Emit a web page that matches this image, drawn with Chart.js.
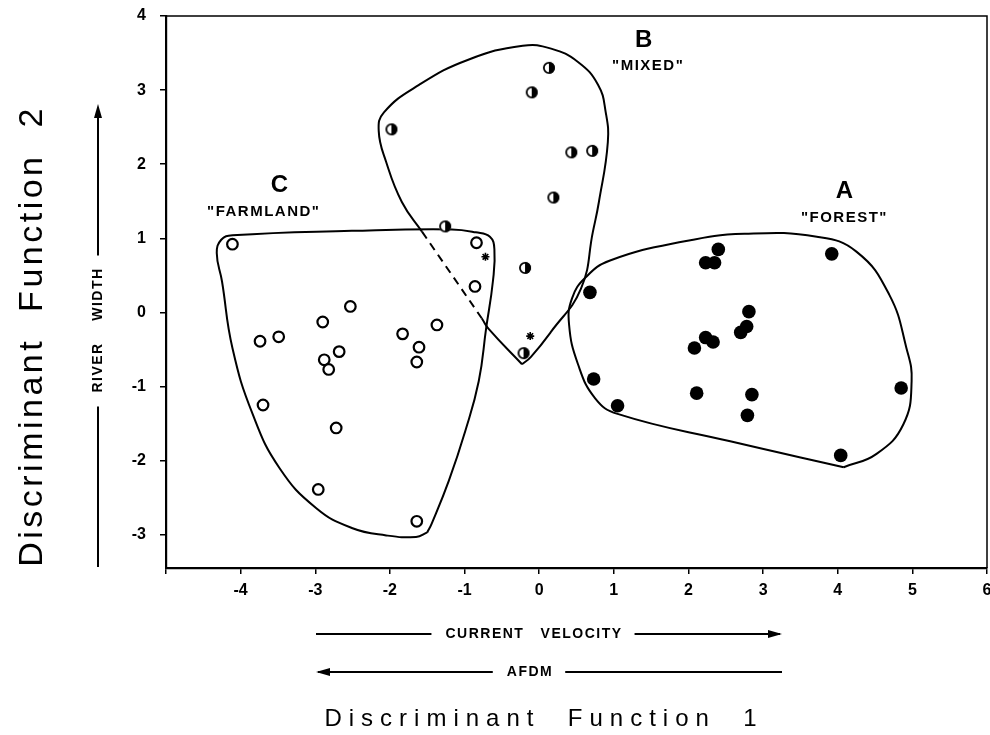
<!DOCTYPE html>
<html>
<head>
<meta charset="utf-8">
<script src="https://cdn.jsdelivr.net/npm/chart.js@4.4.1/dist/chart.umd.min.js"></script>
<style>
html,body{margin:0;padding:0;background:#fff;}
canvas{display:block;}
</style>
</head>
<body>
<canvas id="c" width="990" height="735"></canvas>
<script>
// ---------- DATA ----------
// Group A "FOREST" (filled circles)
const forestX = [2.40, 2.23, 2.35, 3.92, 0.68, 2.81, 2.70, 2.78, 2.23, 2.33, 2.08, 0.73, 1.05, 2.11, 2.85, 2.79, 4.85, 4.04];
const forestY = [0.85, 0.67, 0.67, 0.79, 0.27, 0.01, -0.27, -0.19, -0.34, -0.40, -0.48, -0.90, -1.26, -1.09, -1.11, -1.39, -1.02, -1.93];
// Group B "MIXED" (half-filled circles)
const mixedX = [-1.98, 0.13, -0.10, 0.43, 0.71, 0.19, -1.26, -0.19, -0.21];
const mixedY = [2.47, 3.30, 2.97, 2.16, 2.18, 1.55, 1.16, 0.60, -0.55];
// Group C "FARMLAND" (open circles)
const farmX = [-4.11, -0.84, -0.86, -2.53, -2.90, -3.74, -3.49, -2.88, -2.82, -2.68, -1.83, -1.61, -1.64, -1.37, -3.70, -2.72, -2.96, -1.64];
const farmY = [0.92, 0.94, 0.35, 0.08, -0.13, -0.39, -0.33, -0.64, -0.77, -0.53, -0.29, -0.47, -0.67, -0.17, -1.25, -1.56, -2.39, -2.82];
// Asterisk marks
const starX = [-0.72, -0.12];
const starY = [0.75, -0.32];

// Group boundaries (closed outlines, data coordinates)
const boundAX = [4.08, 2.56, 1.05, 0.75, 0.52, 0.40, 0.44, 0.62, 0.95, 1.95, 2.75, 3.72, 4.25, 4.69, 4.92, 4.99, 4.88, 4.52, 4.08];
const boundAY = [-2.09, -1.74, -1.37, -1.16, -0.70, -0.16, 0.19, 0.47, 0.70, 0.96, 1.06, 1.02, 0.82, 0.24, -0.48, -0.93, -1.51, -1.91, -2.09];
const boundBX = [-0.23, -0.11, 0.16, 0.56, 0.72, 0.80, 0.92, 0.89, 0.79, 0.52, 0.16, -0.22, -0.95, -1.61, -2.08, -2.15, -2.05, -1.84, -1.57, -0.77, -0.68, -0.23];
const boundBY = [-0.70, -0.60, -0.26, 0.32, 1.09, 1.49, 2.30, 2.71, 3.07, 3.38, 3.56, 3.60, 3.41, 3.07, 2.70, 2.45, 2.03, 1.49, 1.09, -0.08, -0.22, -0.70];
const boundBDashedFrom = 18; // segment index drawn dashed (inside region C)
const boundCX = [-1.50, -1.44, -1.21, -0.99, -0.81, -0.71, -0.62, -0.60, -0.66, -0.85, -1.17, -2.51, -4.11, -4.26, -4.32, -4.25, -4.11, -3.84, -3.48, -2.99, -2.51, -2.05, -1.65, -1.50];
const boundCY = [-2.97, -2.85, -2.27, -1.60, -0.93, -0.21, 0.42, 0.85, 1.02, 1.08, 1.12, 1.10, 1.04, 0.98, 0.80, 0.42, -0.48, -1.37, -2.10, -2.64, -2.91, -3.01, -3.03, -2.97];

// Tick labels / texts
const xTickValues = [-4, -3, -2, -1, 0, 1, 2, 3, 4, 5, 6];
const yTickValues = [-3, -2, -1, 0, 1, 2, 3, 4];
const groupLetters = ['A', 'B', 'C'];
const groupNames = ['"FOREST"', '"MIXED"', '"FARMLAND"'];
const xTitle = 'Discriminant  Function  1';
const yTitle = 'Discriminant  Function  2';
const xVarPos = 'CURRENT   VELOCITY';
const xVarNeg = 'AFDM';
const yVar = 'RIVER    WIDTH';

// ---------- build ----------
const pts = (xs, ys) => xs.map((x, i) => ({x: x, y: ys[i]}));
const FONT = "'Liberation Sans', Arial, Helvetica, sans-serif";

function halfCircle(r) {
  const s = Math.ceil(2 * r + 4);
  const c = document.createElement('canvas');
  c.width = s; c.height = s;
  const g = c.getContext('2d');
  const m = s / 2;
  g.beginPath(); g.arc(m, m, r, 0, 2 * Math.PI); g.fillStyle = '#fff'; g.fill();
  g.beginPath(); g.moveTo(m, m); g.arc(m, m, r, -Math.PI / 2, Math.PI / 2); g.closePath(); g.fillStyle = '#000'; g.fill();
  g.beginPath(); g.arc(m, m, r - 0.9, 0, 2 * Math.PI); g.lineWidth = 1.8; g.strokeStyle = '#000'; g.stroke();
  return c;
}
const halfImg = halfCircle(6);

// label anchor positions in data units (layout, not data)
const groupLabelPos = [
  {xLetter: 4.09, xName: 4.09, yLetter: 1.63, yName: 1.27},
  {xLetter: 1.40, xName: 1.46, yLetter: 3.67, yName: 3.33},
  {xLetter: -3.48, xName: -3.69, yLetter: 1.72, yName: 1.35}
];

function setLS(ctx, v) { if ('letterSpacing' in ctx) ctx.letterSpacing = v; }

const decor = {
  id: 'decor',
  beforeDatasetsDraw(chart) {
    const {ctx, chartArea: a} = chart;
    ctx.save();
    ctx.strokeStyle = '#000';
    ctx.lineWidth = 1.5;
    ctx.beginPath();
    ctx.moveTo(a.left, a.top); ctx.lineTo(a.right, a.top); ctx.lineTo(a.right, a.bottom);
    ctx.stroke();
    ctx.restore();
  },
  afterDraw(chart) {
    const {ctx} = chart;
    const xs = chart.scales.x, ys = chart.scales.y;
    ctx.save();
    ctx.fillStyle = '#000';
    ctx.strokeStyle = '#000';
    // group labels
    ctx.textAlign = 'center';
    ctx.textBaseline = 'middle';
    groupLetters.forEach((L, i) => {
      const p = groupLabelPos[i];
      ctx.font = 'bold 24px ' + FONT; setLS(ctx, '0px');
      ctx.fillText(L, xs.getPixelForValue(p.xLetter), ys.getPixelForValue(p.yLetter));
      ctx.font = 'bold 15px ' + FONT; setLS(ctx, '1.5px');
      ctx.fillText(groupNames[i], xs.getPixelForValue(p.xName), ys.getPixelForValue(p.yName));
    });
    setLS(ctx, '0px');

    function arrowHead(x, y, dir, vertical) {
      ctx.beginPath();
      if (!vertical) {
        ctx.moveTo(x, y); ctx.lineTo(x - dir * 14, y - 4); ctx.lineTo(x - dir * 14, y + 4);
      } else {
        ctx.moveTo(x, y); ctx.lineTo(x - 4, y - dir * 14); ctx.lineTo(x + 4, y - dir * 14);
      }
      ctx.closePath(); ctx.fill();
    }
    function hRow(y, x0, x1, text, cx, dir) {
      ctx.font = 'bold 14px ' + FONT; setLS(ctx, '1.5px');
      const w = ctx.measureText(text).width;
      ctx.textAlign = 'center'; ctx.textBaseline = 'middle';
      ctx.fillText(text, cx, y);
      ctx.lineWidth = 2;
      ctx.beginPath();
      ctx.moveTo(x0, y); ctx.lineTo(cx - w / 2 - 14, y);
      ctx.moveTo(cx + w / 2 + 12, y); ctx.lineTo(x1, y);
      ctx.stroke();
      if (dir > 0) arrowHead(x1 + 2, y, 1, false); else arrowHead(x0 - 2, y, -1, false);
      setLS(ctx, '0px');
    }
    hRow(634, 316, 780, xVarPos, 534, 1);
    hRow(672, 318, 782, xVarNeg, 530, -1);

    // vertical variable arrow
    ctx.save();
    ctx.translate(98, 0);
    ctx.font = 'bold 14px ' + FONT; setLS(ctx, '1.5px');
    const vw = ctx.measureText(yVar).width;
    const vc = 330;
    ctx.save();
    ctx.translate(0, vc); ctx.rotate(-Math.PI / 2);
    ctx.textAlign = 'center'; ctx.textBaseline = 'middle';
    ctx.fillText(yVar, 0, 0);
    ctx.restore();
    ctx.lineWidth = 2;
    ctx.beginPath();
    ctx.moveTo(0, 567); ctx.lineTo(0, vc + vw / 2 + 14);
    ctx.moveTo(0, vc - vw / 2 - 12); ctx.lineTo(0, 110);
    ctx.stroke();
    arrowHead(0, 104, -1, true);
    ctx.restore();
    setLS(ctx, '0px');

    // axis titles
    ctx.font = '24px ' + FONT; setLS(ctx, '7px');
    ctx.textAlign = 'center'; ctx.textBaseline = 'alphabetic';
    ctx.fillText(xTitle, 544, 726);
    ctx.save();
    ctx.translate(42, 336); ctx.rotate(-Math.PI / 2);
    ctx.font = '34px ' + FONT; setLS(ctx, '3.5px');
    ctx.fillText(yTitle, 0, 0);
    ctx.restore();
    ctx.restore();
  }
};

const boundaryStyle = {
  type: 'scatter', showLine: true, fill: false, borderColor: '#000', borderWidth: 2,
  pointRadius: 0, pointHoverRadius: 0, tension: 0.45, order: 2
};

new Chart(document.getElementById('c'), {
  type: 'scatter',
  data: {
    datasets: [
      Object.assign({label: 'A boundary', data: pts(boundAX, boundAY)}, boundaryStyle),
      Object.assign({label: 'B boundary', data: pts(boundBX, boundBY),
        segment: {borderDash: ctx => ctx.p0DataIndex === boundBDashedFrom ? [8, 6] : undefined}}, boundaryStyle),
      Object.assign({label: 'C boundary', data: pts(boundCX, boundCY)}, boundaryStyle),
      {label: 'FOREST', data: pts(forestX, forestY), pointStyle: 'circle', pointRadius: 6.8,
        backgroundColor: '#000', borderColor: '#000', borderWidth: 0, order: 0},
      {label: 'MIXED', data: pts(mixedX, mixedY), pointStyle: halfImg, pointRadius: 6, order: 0},
      {label: 'FARMLAND', data: pts(farmX, farmY), pointStyle: 'circle', pointRadius: 5.3,
        backgroundColor: '#fff', borderColor: '#000', borderWidth: 2.2, order: 0},
      {label: 'star', data: pts(starX, starY), pointStyle: 'star', pointRadius: 4,
        backgroundColor: '#000', borderColor: '#000', borderWidth: 1.6, order: 0}
    ]
  },
  options: {
    responsive: false,
    devicePixelRatio: 1,
    animation: false,
    events: [],
    layout: {autoPadding: false, padding: {top: 16, right: 3, left: 0, bottom: 0}},
    plugins: {legend: {display: false}, tooltip: {enabled: false}},
    scales: {
      x: {
        type: 'linear', min: -5, max: 6,
        afterBuildTicks: s => { s.ticks = [-5].concat(xTickValues).map(v => ({value: v})); },
        ticks: {
          color: '#000', font: {family: FONT, size: 16, weight: 'bold'}, padding: 7,
          maxRotation: 0, autoSkip: false,
          callback: v => (xTickValues.includes(v) ? String(v) : '')
        },
        grid: {drawOnChartArea: false, drawTicks: true, tickLength: 6, color: '#000', lineWidth: 1.5},
        border: {display: true, color: '#000', width: 2.2},
        afterFit: s => { s.height = 167; s.paddingLeft = 0; s.paddingRight = 0; }
      },
      y: {
        type: 'linear', min: -3.45, max: 4,
        afterBuildTicks: s => { s.ticks = yTickValues.map(v => ({value: v})); },
        ticks: {
          color: '#000', font: {family: FONT, size: 16, weight: 'bold'}, padding: 14,
          autoSkip: false, callback: v => String(v)
        },
        grid: {drawOnChartArea: false, drawTicks: true, tickLength: 6, color: '#000', lineWidth: 1.5},
        border: {display: true, color: '#000', width: 2.2},
        afterFit: s => { s.width = 166; s.paddingTop = 0; s.paddingBottom = 0; }
      }
    }
  },
  plugins: [decor]
});
</script>
</body>
</html>
